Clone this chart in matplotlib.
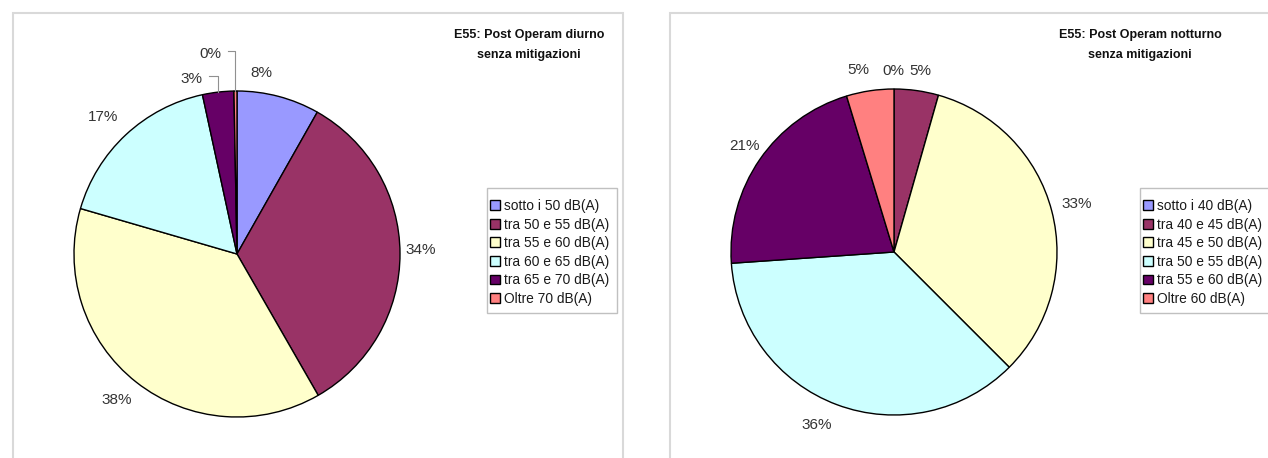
import numpy as np
import matplotlib
matplotlib.use('Agg')
import matplotlib.pyplot as plt
from matplotlib.patches import Rectangle

plt.rcParams['font.family'] = ['Liberation Sans', 'DejaVu Sans']

# ---------------- data ----------------
day_categories = ['sotto i 50 dB(A)', 'tra 50 e 55 dB(A)', 'tra 55 e 60 dB(A)',
                  'tra 60 e 65 dB(A)', 'tra 65 e 70 dB(A)', 'Oltre 70 dB(A)']
day_values = [8.2, 33.5, 37.8, 17.1, 3.1, 0.3]
day_labels = ['8%', '34%', '38%', '17%', '3%', '0%']
day_title = ['E55: Post Operam diurno', 'senza mitigazioni']

night_categories = ['sotto i 40 dB(A)', 'tra 40 e 45 dB(A)', 'tra 45 e 50 dB(A)',
                    'tra 50 e 55 dB(A)', 'tra 55 e 60 dB(A)', 'Oltre 60 dB(A)']
night_values = [0.0, 4.4, 33.1, 36.4, 21.4, 4.7]
night_labels = ['0%', '5%', '33%', '36%', '21%', '5%']
night_title = ['E55: Post Operam notturno', 'senza mitigazioni']

colors = ['#9999FF', '#993366', '#FFFFCC', '#CCFFFF', '#660066', '#FF8080']

# label placement (distance in radii, angular shift in degrees from wedge middle)
day_label_dist = [1.12, 1.13, 1.16, 1.175, 1.107, 1.237]
day_label_shift = [-7.0, -1.1, 1.4, -1.2, -7.8, -7.0]
day_leader = [False, False, False, False, True, True]
night_label_dist = [1.11, 1.125, 1.16, 1.165, 1.125, 1.135]
night_label_shift = [-0.3, 0.3, 0.0, 3.5, 0.9, -2.6]
night_leader = [False] * 6

W, H = 1268, 458
fig = plt.figure(figsize=(W / 100, H / 100), dpi=100)
fig.patch.set_facecolor('white')

# chart frames
frame_col = '#d9d9d9'
fig.add_artist(Rectangle((13 / W, -0.1), (623 - 13) / W, 1.1 - 12.5 / H,
                         transform=fig.transFigure, fill=False,
                         edgecolor=frame_col, lw=1.5))
fig.add_artist(Rectangle((670 / W, -0.1), 0.5, 1.1 - 12.5 / H,
                         transform=fig.transFigure, fill=False,
                         edgecolor=frame_col, lw=1.5))


def draw_pie(cx, cy, r, values, labels, cats, dists, shifts, leaders,
             title, title_x, legend_x):
    ax = fig.add_axes([(cx - r) / W, (H - cy - r) / H, 2 * r / W, 2 * r / H])
    wedges, _ = ax.pie(values, colors=colors, startangle=90, counterclock=False,
                       wedgeprops=dict(edgecolor='black', linewidth=1.0))
    ax.set_xlim(-1, 1)
    ax.set_ylim(-1, 1)
    ax.axis('off')
    total = float(sum(values))
    cum = np.cumsum([0] + list(values)) / total * 360.0
    for i, lab in enumerate(labels):
        mid = (cum[i] + cum[i + 1]) / 2.0
        ang = np.deg2rad(mid + shifts[i])
        x = dists[i] * np.sin(ang)
        y = dists[i] * np.cos(ang)
        ax.text(x, y, lab, ha='center', va='center', fontsize=11,
                color='#333333', clip_on=False)
        if leaders[i]:
            ma = np.deg2rad(mid)
            ex, ey = np.sin(ma), np.cos(ma)
            tx = x + 0.105
            ax.plot([tx, ex, ex], [y + 0.02, y + 0.02, ey], color='#909090',
                    lw=0.8, clip_on=False)
    fig.text(title_x / W, 1 - 35 / H, title[0], ha='center', va='center',
             fontsize=9.0, fontweight='bold', color='#111111')
    fig.text(title_x / W, 1 - 55 / H, title[1], ha='center', va='center',
             fontsize=9.0, fontweight='bold', color='#111111')
    # legend frame
    fig.add_artist(Rectangle((legend_x / W, 1 - 313 / H), 130 / W, 125 / H,
                             transform=fig.transFigure, facecolor='white',
                             edgecolor='#c0c0c0', lw=1.0, zorder=2))
    leg = fig.legend(wedges, cats, loc='upper left',
                     bbox_to_anchor=((legend_x - 1) / W, 1 - 195 / H),
                     frameon=False, fontsize=9.9,
                     handlelength=0.72, handleheight=0.72, handletextpad=0.3,
                     labelspacing=0.33, borderpad=0.3, borderaxespad=0)
    leg.set_zorder(3)
    for t in leg.get_texts():
        t.set_color('#1a1a1a')
    return ax


draw_pie(237, 254, 163, day_values, day_labels, day_categories,
         day_label_dist, day_label_shift, day_leader, day_title, 529, 487)
draw_pie(894, 252, 163, night_values, night_labels, night_categories,
         night_label_dist, night_label_shift, night_leader, night_title, 1140, 1140)

fig.savefig('out.png', dpi=100, facecolor='white')
